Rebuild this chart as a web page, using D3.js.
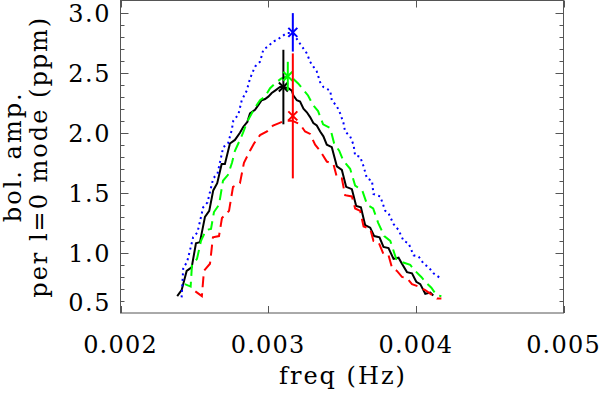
<!DOCTYPE html>
<html><head><meta charset="utf-8">
<script src="https://cdn.jsdelivr.net/npm/d3@7"></script>
<style>body{margin:0;background:#fff}svg{display:block}</style>
</head><body>
<svg id="c" width="600" height="394"></svg>
<script>
// ---- data (freq in Hz, amplitude in ppm) ----
const blackFreq = [0.002384,0.002414,0.002448,0.002482,0.002511,0.002538,0.002572,0.002601,0.002628,0.002655,0.002685,0.002707,0.002741,0.002775,0.002809,0.002832,0.002859,0.002877,0.002911,0.002933,0.002956,0.002979,0.003001,0.003024,0.003047,0.003080,0.003103,0.003137,0.003160,0.003171,0.003194,0.003216,0.003239,0.003262,0.003284,0.003306,0.003329,0.003352,0.003374,0.003397,0.003431,0.003465,0.003499,0.003528,0.003567,0.003596,0.003628,0.003657,0.003691,0.003718,0.003754,0.003781,0.003815,0.003849,0.003883,0.003906,0.003940,0.003974,0.004003,0.004030,0.004064,0.004098,0.004118];
const blackAmp = [0.64,0.69,0.85,0.88,1.08,1.09,1.30,1.35,1.52,1.58,1.74,1.74,1.91,1.94,2.00,2.05,2.09,2.16,2.19,2.23,2.27,2.28,2.30,2.33,2.35,2.38,2.38,2.37,2.35,2.31,2.27,2.26,2.20,2.17,2.13,2.08,2.06,2.01,1.97,1.90,1.88,1.72,1.69,1.55,1.53,1.39,1.38,1.23,1.21,1.14,1.13,1.05,1.04,0.95,0.96,0.91,0.84,0.83,0.76,0.74,0.66,0.67,0.645];

const blueFreq = [0.002414,0.002425,0.002450,0.002492,0.002521,0.002560,0.002589,0.002628,0.002657,0.002696,0.002728,0.002753,0.002764,0.002798,0.002821,0.002855,0.002877,0.002911,0.002945,0.002967,0.003001,0.003035,0.003058,0.003092,0.003126,0.003160,0.003194,0.003216,0.003239,0.003262,0.003284,0.003306,0.003329,0.003352,0.003374,0.003420,0.003431,0.003465,0.003488,0.003510,0.003521,0.003555,0.003578,0.003589,0.003623,0.003646,0.003669,0.003703,0.003713,0.003759,0.003793,0.003815,0.003849,0.003883,0.003917,0.003951,0.003985,0.004019,0.004053,0.004087,0.004120,0.004166];
const blueAmp = [0.63,0.88,0.92,1.13,1.17,1.38,1.42,1.62,1.66,1.88,1.91,2.02,2.10,2.15,2.27,2.35,2.45,2.55,2.59,2.69,2.72,2.76,2.77,2.80,2.83,2.83,2.78,2.74,2.70,2.66,2.59,2.55,2.51,2.42,2.38,2.35,2.27,2.22,2.16,2.08,2.01,1.97,1.90,1.81,1.80,1.72,1.62,1.60,1.49,1.47,1.35,1.33,1.24,1.19,1.10,1.08,0.98,0.97,0.91,0.88,0.83,0.79];

const greenFreq = [0.002436,0.002475,0.002484,0.002518,0.002545,0.002579,0.002613,0.002633,0.002667,0.002694,0.002728,0.002755,0.002775,0.002809,0.002830,0.002857,0.002884,0.002911,0.002945,0.002979,0.003013,0.003047,0.003087,0.003128,0.003169,0.003203,0.003237,0.003270,0.003304,0.003338,0.003372,0.003420,0.003447,0.003481,0.003508,0.003555,0.003589,0.003637,0.003671,0.003711,0.003745,0.003786,0.003827,0.003867,0.003915,0.003962,0.003996,0.004037,0.004071,0.004105,0.004139,0.004173];
const greenAmp = [0.74,0.72,0.90,0.95,1.10,1.19,1.20,1.34,1.40,1.60,1.65,1.75,1.85,1.94,2.00,2.09,2.15,2.21,2.27,2.30,2.37,2.41,2.45,2.47,2.45,2.41,2.36,2.31,2.23,2.18,2.07,2.04,1.91,1.85,1.77,1.70,1.56,1.52,1.40,1.37,1.25,1.14,1.10,0.95,0.92,0.90,0.85,0.80,0.75,0.71,0.65,0.64];

const redFreq = [0.002507,0.002551,0.002565,0.002606,0.002626,0.002667,0.002687,0.002735,0.002762,0.002809,0.002836,0.002877,0.002904,0.002945,0.002992,0.003033,0.003074,0.003114,0.003162,0.003216,0.003250,0.003284,0.003318,0.003352,0.003397,0.003442,0.003465,0.003499,0.003521,0.003567,0.003589,0.003623,0.003646,0.003691,0.003713,0.003747,0.003781,0.003815,0.003838,0.003872,0.003906,0.003940,0.003974,0.004019,0.004064,0.004110,0.004143,0.004173];
const redAmp = [0.68,0.64,0.85,0.91,1.13,1.14,1.29,1.35,1.55,1.58,1.75,1.85,1.91,1.98,2.01,2.06,2.08,2.10,2.10,2.07,2.01,1.99,1.90,1.85,1.76,1.74,1.63,1.62,1.48,1.47,1.37,1.35,1.22,1.20,1.10,1.09,0.99,0.98,0.88,0.85,0.80,0.79,0.74,0.72,0.69,0.65,0.62,0.62];

// peak markers with error bars: black, blue, green, red
const peakFreq = [0.003103, 0.003167, 0.003133, 0.003167];
const peakAmp  = [2.38, 2.835, 2.47, 2.14];
const peakErr  = [0.31, 0.16, 0.12, 0.52];

const xTicks = [0.002, 0.003, 0.004, 0.005];
const xTickLabels = ["0.002", "0.003", "0.004", "0.005"];
const yTicks = [0.5, 1.0, 1.5, 2.0, 2.5, 3.0];
const yTickLabels = ["0.5", "1.0", "1.5", "2.0", "2.5", "3.0"];
const yMinorTicks = d3.range(6, 31).map(v => v / 10);
const xTitle = "freq (Hz)";
const yTitle1 = "bol. amp.";
const yTitle2 = "per l=0 mode (ppm)";

// ---- layout ----
const L = 120.5, R = 563.5, T = 0.5, B = 313;
const x = d3.scaleLinear().domain([0.002, 0.005]).range([L, R]);
const y = d3.scaleLinear().domain([0.5, 3.1]).range([B, T]);

const svg = d3.select("#c");
const font = "'DejaVu Serif', serif";
const frameColor = "#555";

const series = [
  {f: blackFreq, a: blackAmp, color: "#000000", dash: null},
  {f: blueFreq,  a: blueAmp,  color: "#0000ff", dash: "2,3.5"},
  {f: greenFreq, a: greenAmp, color: "#00ff00", dash: "11,6"},
  {f: redFreq,   a: redAmp,   color: "#ff0000", dash: "11,6"}
];

const line = d3.line().x(d => x(d[0])).y(d => y(d[1]));
const plot = svg.append("g");

series.forEach((s, i) => {
  const pts = s.f.map((f, j) => [f, s.a[j]]);
  plot.append("path").attr("d", line(pts))
    .attr("fill", "none").attr("stroke", s.color).attr("stroke-width", 2)
    .attr("stroke-dasharray", s.dash);
});

series.forEach((s, i) => {
  const cx = x(peakFreq[i]), cy = y(peakAmp[i]);
  plot.append("line")
    .attr("x1", cx).attr("x2", cx)
    .attr("y1", y(peakAmp[i] + peakErr[i])).attr("y2", y(peakAmp[i] - peakErr[i]))
    .attr("stroke", s.color).attr("stroke-width", 2);
  const m = 4.5;
  plot.append("path")
    .attr("d", `M${cx - m},${cy - m}L${cx + m},${cy + m}M${cx - m},${cy + m}L${cx + m},${cy - m}`)
    .attr("stroke", s.color).attr("stroke-width", 2).attr("fill", "none");
});

// ---- frame & ticks ----
const ax = svg.append("g").attr("stroke", frameColor).attr("stroke-width", 1).attr("fill", "none");
ax.append("rect").attr("x", L).attr("y", T).attr("width", R - L).attr("height", B - T);
xTicks.forEach(t => {
  const px = Math.round(x(t)) + 0.5;
  ax.append("line").attr("x1", px).attr("x2", px).attr("y1", B).attr("y2", B - 7);
  ax.append("line").attr("x1", px).attr("x2", px).attr("y1", T).attr("y2", T + 7);
});
yMinorTicks.forEach(t => {
  const major = Math.abs(t * 2 - Math.round(t * 2)) < 1e-6;
  const len = major ? 8 : 4;
  const py = Math.round(y(t)) + 0.5;
  ax.append("line").attr("x1", L).attr("x2", L + len).attr("y1", py).attr("y2", py);
  ax.append("line").attr("x1", R).attr("x2", R - len).attr("y1", py).attr("y2", py);
});

// ---- labels ----
const txt = svg.append("g").attr("font-family", font).attr("font-size", 24)
  .attr("fill", "#000");

xTicks.forEach((t, i) => {
  txt.append("text").attr("x", x(t)).attr("y", 353)
    .attr("text-anchor", "middle").attr("letter-spacing", 1.2).text(xTickLabels[i]);
});
yTicks.forEach((t, i) => {
  const py = i === 0 ? y(t) - 11 : y(t);
  txt.append("text").attr("x", 111).attr("y", py + 9)
    .attr("text-anchor", "end").attr("letter-spacing", 1.5).text(yTickLabels[i]);
});
txt.append("text").attr("x", (L + R) / 2 + 1).attr("y", 384)
  .attr("text-anchor", "middle").attr("letter-spacing", 2).text(xTitle);
txt.append("text").attr("transform", `translate(21,${(T + B) / 2}) rotate(-90)`)
  .attr("text-anchor", "middle").attr("letter-spacing", 2).text(yTitle1);
txt.append("text").attr("transform", `translate(47,${(T + B) / 2}) rotate(-90)`)
  .attr("text-anchor", "middle").attr("letter-spacing", 2).text(yTitle2);
</script>
</body></html>
